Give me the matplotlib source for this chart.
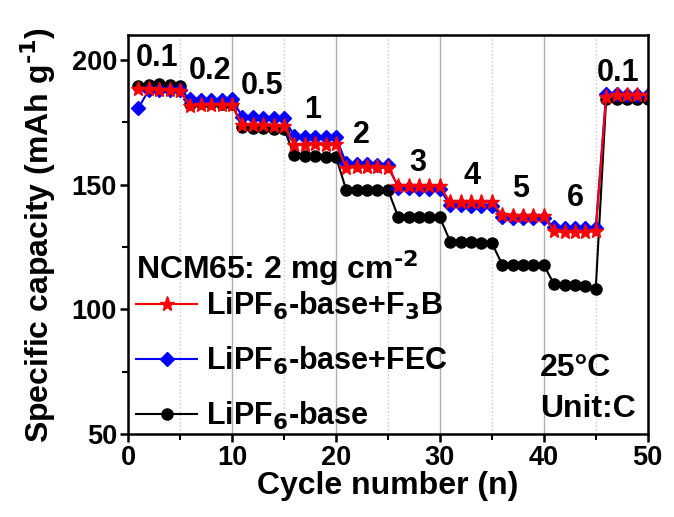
import numpy as np
import matplotlib
matplotlib.use('Agg')
import matplotlib.pyplot as plt
from matplotlib.ticker import MultipleLocator

plt.rcParams['font.family'] = ['Liberation Sans', 'DejaVu Sans']
plt.rcParams['font.weight'] = 'bold'
plt.rcParams['mathtext.default'] = 'bf'

cycles = np.arange(1, 51)
# LiPF6-base
base = [189.5, 190.2, 190.3, 190.0, 189.8,
        182.5, 182.8, 182.6, 182.5, 182.3,
        173.0, 172.8, 172.6, 172.5, 172.4,
        161.8, 161.5, 161.4, 161.3, 161.2,
        147.8, 148.0, 148.0, 148.0, 148.0,
        137.0, 137.0, 137.0, 137.0, 136.9,
        127.2, 127.0, 127.0, 126.8, 126.6,
        118.0, 118.0, 118.0, 117.8, 117.8,
        110.0, 109.6, 109.6, 109.5, 108.3,
        184.2, 184.3, 184.4, 184.3, 184.3]
# LiPF6-base+FEC
fec = [180.8, 188.0, 188.0, 188.2, 188.0,
       184.3, 184.0, 184.0, 184.0, 184.2,
       177.3, 177.0, 176.8, 176.8, 176.8,
       169.5, 169.3, 169.2, 169.2, 169.0,
       158.6, 158.3, 158.2, 158.0, 158.0,
       148.8, 148.5, 148.2, 148.2, 148.2,
       141.8, 141.7, 141.6, 141.6, 141.6,
       137.0, 136.8, 136.7, 136.6, 136.5,
       133.0, 132.8, 132.8, 132.8, 132.8,
       186.5, 186.2, 186.0, 186.0, 185.8]
# LiPF6-base+F3B
f3b = [188.3, 188.3, 188.0, 187.8, 187.5,
       181.5, 182.0, 182.0, 181.8, 182.0,
       174.0, 173.8, 173.8, 173.6, 173.6,
       166.0, 166.0, 166.2, 166.0, 166.2,
       156.8, 157.0, 157.0, 157.0, 156.8,
       149.5, 149.5, 149.4, 149.4, 149.3,
       143.0, 143.0, 143.0, 143.0, 143.0,
       137.8, 137.5, 137.5, 137.5, 137.3,
       131.3, 131.0, 131.0, 131.0, 131.5,
       185.2, 185.8, 185.8, 186.0, 186.0]

rate_labels = ['0.1', '0.2', '0.5', '1', '2', '3', '4', '5', '6', '0.1']
rate_x = [2.8, 7.9, 12.9, 17.8, 22.5, 27.9, 33.1, 37.8, 43.0, 47.1]
rate_y = [201, 195.6, 189.7, 180, 169.8, 158.9, 153.6, 148.4, 144.8, 194.8]

fig = plt.figure(figsize=(6.74, 5.17), dpi=100)
ax = fig.add_axes([0.19, 0.1605, 0.771, 0.7715])

ax.xaxis.set_major_locator(MultipleLocator(10))
ax.xaxis.set_minor_locator(MultipleLocator(5))
ax.yaxis.set_major_locator(MultipleLocator(50))
ax.yaxis.set_minor_locator(MultipleLocator(25))
ax.grid(which='major', axis='x', color='#b0b0b0', lw=1.0, ls='-')
ax.grid(which='minor', axis='x', color='#c8c8c8', lw=1.0, ls=':')
ax.set_axisbelow(True)

l3, = ax.plot(cycles, base, 'o-', color='black', ms=8, lw=1.5, label=r'LiPF$_6$-base')
l2, = ax.plot(cycles, fec, 'D-', color='#0000ff', ms=7.5, lw=1.5, label=r'LiPF$_6$-base+FEC')
l1, = ax.plot(cycles, f3b, '*-', color='#ff0000', ms=11, lw=1.5, label=r'LiPF$_6$-base+F$_3$B')

for lab, xx, yy in zip(rate_labels, rate_x, rate_y):
    ax.text(xx, yy, lab, fontsize=22, fontweight='bold', ha='center', va='center')

ax.text(39.6, 76.6, '25\u00b0C', fontsize=23, fontweight='bold', ha='left', va='center')
ax.text(39.6, 60, 'Unit:C', fontsize=23, fontweight='bold', ha='left', va='center')
ax.text(0.8, 116.5, r'NCM65: 2 mg cm$^{\text{-}2}$', fontsize=23, fontweight='bold',
        ha='left', va='center')

leg = ax.legend(handles=[l1, l2, l3], loc='lower left', bbox_to_anchor=(-0.02, -0.04),
                frameon=False, fontsize=22,
                handlelength=2.0, handletextpad=0.3, labelspacing=0.75, borderaxespad=0.2)

ax.set_xlim(0, 50)
ax.set_ylim(50, 210)
ax.set_xlabel('Cycle number (n)', fontsize=23, fontweight='bold', labelpad=0)
ax.set_ylabel(r'Specific capacity (mAh g$^{\text{-}1}$)', fontsize=23, fontweight='bold', labelpad=10)

for s in ax.spines.values():
    s.set_linewidth(1.8)
ax.tick_params(which='major', direction='out', length=6, width=1.8, labelsize=19.5, pad=2)
ax.tick_params(which='minor', direction='out', length=4, width=1.5)
for t in ax.get_xticklabels() + ax.get_yticklabels():
    t.set_fontweight('bold')

plt.savefig('out.png', dpi=100)
